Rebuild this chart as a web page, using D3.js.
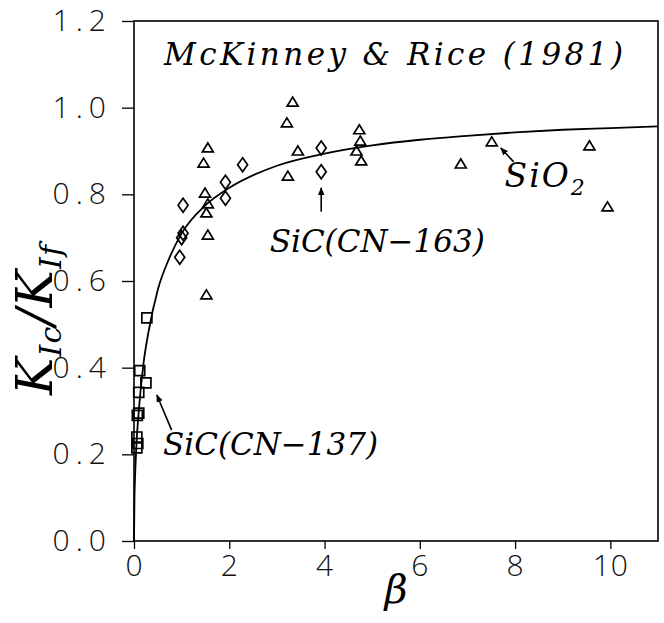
<!DOCTYPE html>
<html>
<head>
<meta charset="utf-8">
<script src="https://cdn.jsdelivr.net/npm/d3@7"></script>
<style>
  body { margin: 0; background: #fff; }
  svg { display: block; }
</style>
</head>
<body>
<div id="chart"></div>
<script>
// data: beta vs K_Ic/K_If
var sio2Beta = [1.52, 1.55, 1.52, 1.55, 1.49, 1.46, 1.55, 3.21, 3.33, 3.44, 3.23, 4.73, 4.75, 4.67, 4.77, 6.86, 7.51, 9.56, 9.94];
var sio2Ratio = [0.568, 0.706, 0.757, 0.778, 0.803, 0.872, 0.907, 0.965, 1.013, 0.90, 0.842, 0.949, 0.923, 0.90, 0.877, 0.87, 0.921, 0.912, 0.771];

var cn163Beta = [0.96, 1.0, 1.03, 1.03, 1.92, 1.92, 2.28, 3.93, 3.93];
var cn163Ratio = [0.655, 0.70, 0.71, 0.775, 0.791, 0.828, 0.868, 0.852, 0.907];

var cn137Beta = [0.27, 0.12, 0.25, 0.10, 0.07, 0.10, 0.06, 0.08, 0.06];
var cn137Ratio = [0.515, 0.393, 0.365, 0.343, 0.29, 0.295, 0.24, 0.225, 0.215];

// fitted curve, points
var curveBeta = [0, 0.01, 0.02, 0.05, 0.1, 0.2, 0.3, 0.5, 0.75, 1, 1.5, 2, 3, 4, 5, 6, 7, 8, 9, 10, 11];
var curveRatio = [0, 0.10, 0.14, 0.22, 0.30, 0.41, 0.48, 0.58, 0.655, 0.71, 0.775, 0.815, 0.866, 0.894, 0.913, 0.926, 0.935, 0.943, 0.949, 0.953, 0.957];

var xTicks = [0, 2, 4, 6, 8, 10];
var yTicks = [0, 0.2, 0.4, 0.6, 0.8, 1.0, 1.2];

var width = 664, height = 623;
var margin = { top: 21, right: 6, bottom: 82, left: 134 };
var w = width - margin.left - margin.right;
var h = height - margin.top - margin.bottom;

var svg = d3.select("#chart").append("svg")
  .attr("width", width)
  .attr("height", height);

var g = svg.append("g")
  .attr("transform", "translate(" + margin.left + "," + margin.top + ")");

var x = d3.scaleLinear().domain([0, 11]).range([0, w]);
var y = d3.scaleLinear().domain([0, 1.2]).range([h, 0]);

var tickFont = "'Open Sans', 'Liberation Sans', sans-serif";
var serif = "'DejaVu Serif', 'Liberation Serif', serif";

// axes
var xAxis = g.append("g")
  .attr("transform", "translate(0," + h + ")")
  .call(d3.axisBottom(x).tickValues(xTicks).tickFormat(d3.format("d")).tickSize(8).tickPadding(6));
var yAxis = g.append("g")
  .call(d3.axisLeft(y).tickValues(yTicks).tickFormat(d3.format(".1f")).tickSize(12).tickPadding(10));

[xAxis, yAxis].forEach(function (a) {
  a.select(".domain").remove();
  a.selectAll("line").attr("stroke", "#000").attr("stroke-width", 1.3);
  a.selectAll("text")
    .attr("fill", "#111")
    .style("font-family", tickFont)
    .style("font-weight", 300)
    .style("font-size", "30px");
});
xAxis.selectAll("text").style("letter-spacing", "1px");
yAxis.selectAll("text").style("letter-spacing", "6px");

// frame
g.append("rect")
  .attr("width", w)
  .attr("height", h)
  .attr("fill", "none")
  .attr("stroke", "#000")
  .attr("stroke-width", 1.6);

// curve
var line = d3.line()
  .x(function (d) { return x(d[0]); })
  .y(function (d) { return y(d[1]); })
  .curve(d3.curveMonotoneX);

g.append("path")
  .datum(d3.zip(curveBeta, curveRatio))
  .attr("d", line)
  .attr("fill", "none")
  .attr("stroke", "#000")
  .attr("stroke-width", 1.8);

// markers
function drawMarkers(bs, rs, shape) {
  g.append("g").selectAll("path")
    .data(d3.zip(bs, rs))
    .enter()
    .append("path")
    .attr("transform", function (d) { return "translate(" + x(d[0]) + "," + y(d[1]) + ")"; })
    .attr("d", shape)
    .attr("fill", "none")
    .attr("stroke", "#000")
    .attr("stroke-width", 1.7);
}
drawMarkers(sio2Beta, sio2Ratio, "M0,-5L5.5,4L-5.5,4Z");
drawMarkers(cn163Beta, cn163Ratio, "M0,-7L5,0L0,7L-5,0Z");
drawMarkers(cn137Beta, cn137Ratio, "M-5,-5L5,-5L5,5L-5,5Z");

// annotations
svg.append("defs").append("marker")
  .attr("id", "head")
  .attr("viewBox", "0 0 10 10")
  .attr("refX", 9).attr("refY", 5)
  .attr("markerWidth", 5).attr("markerHeight", 5)
  .attr("orient", "auto")
  .append("path")
  .attr("d", "M0,1L10,5L0,9Z")
  .attr("fill", "#000");

var arrows = [
  [[3.93, 0.76], [3.93, 0.815]],
  [[0.79, 0.256], [0.48, 0.337]],
  [[7.97, 0.875], [7.70, 0.907]]
];
g.append("g").selectAll("line")
  .data(arrows)
  .enter()
  .append("line")
  .attr("x1", function (d) { return x(d[0][0]); })
  .attr("y1", function (d) { return y(d[0][1]); })
  .attr("x2", function (d) { return x(d[1][0]); })
  .attr("y2", function (d) { return y(d[1][1]); })
  .attr("stroke", "#000")
  .attr("stroke-width", 1.6)
  .attr("marker-end", "url(#head)");

function label(txt, bx, ry, len, size) {
  return g.append("text")
    .attr("x", x(bx))
    .attr("y", y(ry))
    .attr("textLength", len)
    .attr("lengthAdjust", "spacing")
    .style("font-family", serif)
    .style("font-style", "italic")
    .style("font-size", size + "px")
    .text(txt);
}
label("McKinney & Rice (1981)", 0.63, 1.099, 459, 31);
label("SiC(CN\u2212163)", 2.85, 0.667, 215, 31);
label("SiC(CN\u2212137)", 0.61, 0.198, 215, 31);

var sio2Label = g.append("text")
  .attr("x", x(7.78))
  .attr("y", y(0.817))
  .style("font-family", serif)
  .style("font-style", "italic")
  .style("font-size", "33px");
sio2Label.append("tspan").attr("letter-spacing", "2px").text("SiO");
sio2Label.append("tspan").attr("dy", 8).style("font-size", "22px").text("2");

// axis titles
svg.append("text")
  .attr("x", margin.left + w / 2)
  .attr("y", 603)
  .attr("text-anchor", "middle")
  .style("font-family", serif)
  .style("font-style", "italic")
  .style("font-size", "40px")
  .text("\u03b2");

var yTitle = svg.append("text")
  .attr("transform", "translate(52," + 320 + ") rotate(-90)")
  .attr("text-anchor", "middle")
  .attr("textLength", 150)
  .attr("lengthAdjust", "spacing")
  .style("font-family", serif)
  .style("font-style", "italic")
  .style("font-size", "50px");
yTitle.append("tspan").text("K");
yTitle.append("tspan").attr("dy", 9).style("font-size", "30px").text("Ic");
yTitle.append("tspan").attr("dy", -9).text("/K");
yTitle.append("tspan").attr("dy", 9).style("font-size", "30px").text("If");
</script>
</body>
</html>
